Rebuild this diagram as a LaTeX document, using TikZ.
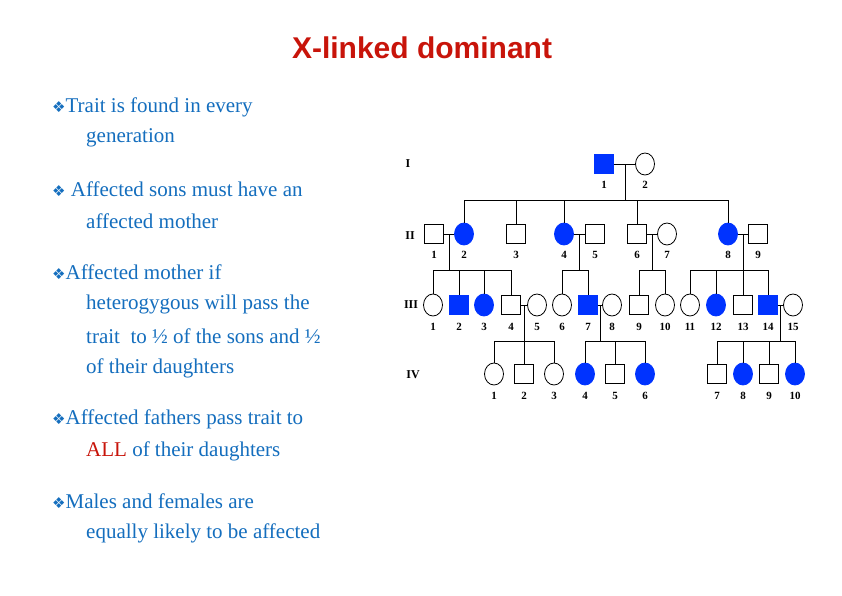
\documentclass[tikz,border=0pt]{standalone}
\usepackage{fontspec}
\usetikzlibrary{shapes.geometric}
\setmainfont{Liberation Serif}
\newfontfamily\hel{Liberation Sans}
\newfontfamily\dv{DejaVu Sans}
\definecolor{aff}{RGB}{0,51,255}
\definecolor{txt}{RGB}{20,110,190}
\definecolor{ttl}{RGB}{200,20,10}
\begin{document}
\begin{tikzpicture}[x=1pt,y=-1pt,
 sq/.style={draw,line width=0.8pt,minimum size=19pt,inner sep=0pt},
 ci/.style={draw,ellipse,line width=0.8pt,minimum width=19pt,minimum height=22pt,inner sep=0pt},
 af/.style={fill=aff,draw=aff},
 sqa/.style={sq,af},
 cia/.style={ci,af},
 lab/.style={font=\bfseries\fontsize{11}{11}\selectfont},
 gl/.style={font=\bfseries\fontsize{12}{12}\selectfont},
 ln/.style={line width=0.8pt},
 bt/.style={anchor=west,text=txt,font=\fontsize{21}{21}\selectfont,inner sep=0pt}]
\useasboundingbox[fill=white] (0,0) rectangle (842,595);
\node[text=ttl,font=\hel\bfseries\fontsize{30}{30}\selectfont] (title) at (422,48) {X-linked dominant};
\foreach \y/\t [count=\i] in {107/{\dv\fontsize{15}{15}\selectfont ❖}Trait is found in every,138/\hspace*{34pt}generation,
 189/{\dv\fontsize{15}{15}\selectfont ❖} Affected sons must have an,221/\hspace*{34pt}affected mother,
 272/{\dv\fontsize{15}{15}\selectfont ❖}Affected mother if,304/\hspace*{34pt}heterogygous will pass the,
 336/\hspace*{34pt}trait\ \ to ½ of the sons and ½,368/\hspace*{34pt}of their daughters,
 419/{\dv\fontsize{15}{15}\selectfont ❖}Affected fathers pass trait to,451/\hspace*{34pt}{\color{ttl}ALL} of their daughters,
 501/{\dv\fontsize{15}{15}\selectfont ❖}Males and females are,533/\hspace*{34pt}equally likely to be affected}
 \node[bt] (b\i) at (52,\y) {\t};
% generation labels
\node[gl] (gI) at (408,164) {I};
\node[gl] (gII) at (410,236) {II};
\node[gl] (gIII) at (411,305) {III};
\node[gl] (gIV) at (413,375) {IV};
% Gen I
\node[sqa] (i1) at (604,164) {};
\node[ci] (i2) at (645,164) {};
% Gen II
\node[sq] (ii1) at (434,234) {};
\node[cia] (ii2) at (464,234) {};
\node[sq] (ii3) at (516,234) {};
\node[cia] (ii4) at (564,234) {};
\node[sq] (ii5) at (595,234) {};
\node[sq] (ii6) at (637,234) {};
\node[ci] (ii7) at (667,234) {};
\node[cia] (ii8) at (728,234) {};
\node[sq] (ii9) at (758,234) {};
% Gen III
\foreach \n/\x/\s in {1/433/ci,2/459/sqa,3/484/cia,4/511/sq,5/537/ci,6/562/ci,7/588/sqa,8/612/ci,9/639/sq,10/665/ci,11/690/ci,12/716/cia,13/743/sq,14/768/sqa,15/793/ci}
 \node[\s] (iii\n) at (\x,305) {};
% Gen IV
\foreach \n/\x/\s in {1/494/ci,2/524/sq,3/554/ci,4/585/cia,5/615/sq,6/645/cia,7/717/sq,8/743/cia,9/769/sq,10/795/cia}
 \node[\s] (iv\n) at (\x,374) {};
% labels
\foreach \n/\x in {1/604,2/645} \node[lab] at (\x,185) {\n};
\foreach \n/\x in {1/434,2/464,3/516,4/564,5/595,6/637,7/667,8/728,9/758} \node[lab] at (\x,255) {\n};
\foreach \n/\x in {1/433,2/459,3/484,4/511,5/537,6/562,7/588,8/612,9/639,10/665,11/690,12/716,13/743,14/768,15/793} \node[lab] at (\x,327) {\n};
\foreach \n/\x in {1/494,2/524,3/554,4/585,5/615,6/645,7/717,8/743,9/769,10/795} \node[lab] at (\x,396) {\n};
% connectors
\draw[ln] (i1) -- (i2);
\draw[ln] (625,164) -- (625,200);
\draw[ln] (464,200) -- (728,200);
\foreach \n in {2,3,4,6,8} \draw[ln] (ii\n.north |- 0,200) -- (ii\n);
\draw[ln] (ii1) -- (ii2); \draw[ln] (ii4) -- (ii5); \draw[ln] (ii6) -- (ii7); \draw[ln] (ii8) -- (ii9);
\draw[ln] (449,234) -- (449,270); \draw[ln] (433,270) -- (511,270);
\foreach \n in {1,2,3,4} \draw[ln] (iii\n.north |- 0,270) -- (iii\n);
\draw[ln] (579,234) -- (579,270); \draw[ln] (562,270) -- (588,270);
\foreach \n in {6,7} \draw[ln] (iii\n.north |- 0,270) -- (iii\n);
\draw[ln] (652,234) -- (652,270); \draw[ln] (639,270) -- (665,270);
\foreach \n in {9,10} \draw[ln] (iii\n.north |- 0,270) -- (iii\n);
\draw[ln] (743,234) -- (743,270); \draw[ln] (690,270) -- (768,270);
\foreach \n in {11,12,13,14} \draw[ln] (iii\n.north |- 0,270) -- (iii\n);
\draw[ln] (iii4) -- (iii5); \draw[ln] (iii7) -- (iii8); \draw[ln] (iii14) -- (iii15);
\draw[ln] (524,305) -- (524,341); \draw[ln] (494,341) -- (554,341);
\foreach \n in {1,2,3} \draw[ln] (iv\n.north |- 0,341) -- (iv\n);
\draw[ln] (600,305) -- (600,341); \draw[ln] (585,341) -- (645,341);
\foreach \n in {4,5,6} \draw[ln] (iv\n.north |- 0,341) -- (iv\n);
\draw[ln] (780,305) -- (780,341); \draw[ln] (717,341) -- (795,341);
\foreach \n in {7,8,9,10} \draw[ln] (iv\n.north |- 0,341) -- (iv\n);
\end{tikzpicture}
\end{document}
